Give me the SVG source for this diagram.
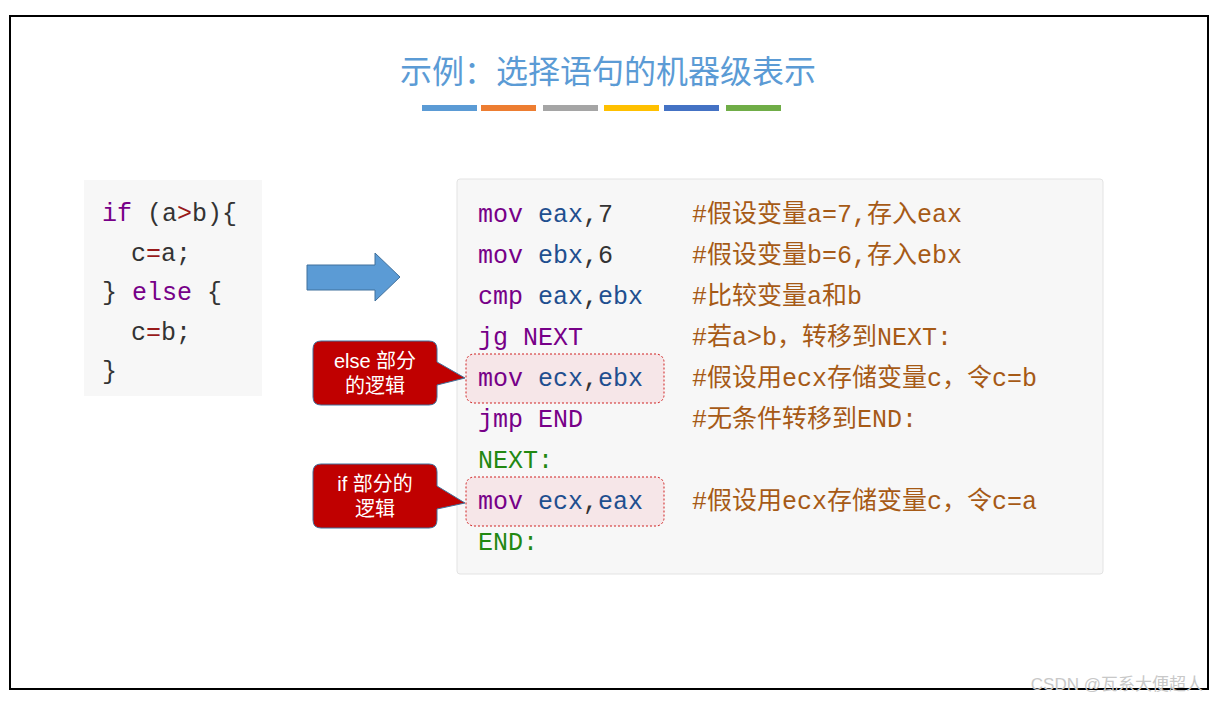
<svg xmlns="http://www.w3.org/2000/svg" width="1220" height="703" viewBox="0 0 1220 703">
<style>
.code{font-family:"Liberation Mono","Noto Sans CJK SC",monospace;font-size:25px;}
.kw{fill:#770088}.rg{fill:#1f4f8f}.nm{fill:#333}.lb{fill:#228811}.cm{fill:#a65a16}
.call{font-family:"Liberation Sans","Noto Sans CJK SC",sans-serif;font-size:20px;fill:#fff;text-anchor:middle}
</style>
<rect width="1220" height="703" fill="#fff"/>
<rect x="10" y="16" width="1198" height="673" fill="#fff" stroke="#000" stroke-width="2"/>
<g id="title">
<text x="608" y="83" text-anchor="middle" font-family="Noto Sans CJK SC, sans-serif" font-size="32" fill="#5b9bd5">示例：选择语句的机器级表示</text>
<rect x="422" y="105" width="55" height="6" fill="#5b9bd5"/>
<rect x="481" y="105" width="55" height="6" fill="#ed7d31"/>
<rect x="543" y="105" width="55" height="6" fill="#a5a5a5"/>
<rect x="604" y="105" width="55" height="6" fill="#ffc000"/>
<rect x="664" y="105" width="55" height="6" fill="#4472c4"/>
<rect x="726" y="105" width="55" height="6" fill="#70ad47"/>
</g>
<g id="ccode">
<rect x="84" y="180" width="178" height="216" fill="#f7f7f7"/>
<text class="code" x="102" y="221"><tspan class="kw">if</tspan><tspan class="nm"> (a</tspan><tspan fill="#981a1a">&gt;</tspan><tspan class="nm">b){</tspan></text>
<text class="code nm" x="131" y="261">c<tspan fill="#981a1a">=</tspan>a;</text>
<text class="code" x="102" y="300"><tspan class="nm">} </tspan><tspan class="kw">else</tspan><tspan class="nm"> {</tspan></text>
<text class="code nm" x="131" y="340">c<tspan fill="#981a1a">=</tspan>b;</text>
<text class="code nm" x="102" y="379">}</text>
</g>
<g id="arrow">
<polygon points="307,265 375,265 375,253 400,277 375,301 375,290 307,290" fill="#5b9bd5" stroke="#41719c" stroke-width="1"/>
</g>
<g id="asm">
<rect x="457" y="179" width="646" height="395" rx="3" fill="#f7f7f7" stroke="#e3e3e3"/>
<rect x="466" y="354" width="198" height="49" rx="8" fill="#f6e6e8" stroke="#d02020" stroke-dasharray="2,2"/>
<rect x="466" y="477" width="198" height="49" rx="8" fill="#f6e6e8" stroke="#d02020" stroke-dasharray="2,2"/>
<g class="code">
<text x="478" y="222"><tspan class="kw">mov</tspan> <tspan class="rg">eax</tspan><tspan class="nm">,7</tspan></text>
<text x="478" y="263"><tspan class="kw">mov</tspan> <tspan class="rg">ebx</tspan><tspan class="nm">,6</tspan></text>
<text x="478" y="304"><tspan class="kw">cmp</tspan> <tspan class="rg">eax</tspan><tspan class="nm">,</tspan><tspan class="rg">ebx</tspan></text>
<text x="478" y="345" class="kw">jg NEXT</text>
<text x="478" y="386"><tspan class="kw">mov</tspan> <tspan class="rg">ecx</tspan><tspan class="nm">,</tspan><tspan class="rg">ebx</tspan></text>
<text x="478" y="427" class="kw">jmp END</text>
<text x="478" y="468" class="lb">NEXT:</text>
<text x="478" y="509"><tspan class="kw">mov</tspan> <tspan class="rg">ecx</tspan><tspan class="nm">,</tspan><tspan class="rg">eax</tspan></text>
<text x="478" y="550" class="lb">END:</text>
<g class="cm">
<text x="692" y="222">#假设变量a=7,存入eax</text>
<text x="692" y="263">#假设变量b=6,存入ebx</text>
<text x="692" y="304">#比较变量a和b</text>
<text x="692" y="345">#若a&gt;b，转移到NEXT:</text>
<text x="692" y="386">#假设用ecx存储变量c，令c=b</text>
<text x="692" y="427">#无条件转移到END:</text>
<text x="692" y="509">#假设用ecx存储变量c，令c=a</text>
</g>
</g>
</g>
<g id="callout-else">
<path d="M321,341 H429 Q437,341 437,349 V362 L465,378 L437,385 V397 Q437,405 429,405 H321 Q313,405 313,397 V349 Q313,341 321,341 Z" fill="#c00000" stroke="#41719c"/>
<text class="call" x="375" y="368">else 部分</text>
<text class="call" x="375" y="393">的逻辑</text>
</g>
<g id="callout-if">
<path d="M321,464 H429 Q437,464 437,472 V486 L465,503 L437,509 V520 Q437,528 429,528 H321 Q313,528 313,520 V472 Q313,464 321,464 Z" fill="#c00000" stroke="#41719c"/>
<text class="call" x="375" y="491">if 部分的</text>
<text class="call" x="375" y="516">逻辑</text>
</g>
<text x="1203" y="690" text-anchor="end" font-family="Liberation Sans, Noto Sans CJK SC, sans-serif" font-size="17" fill="#c8c8c8">CSDN @瓦系大便超人</text>
</svg>
